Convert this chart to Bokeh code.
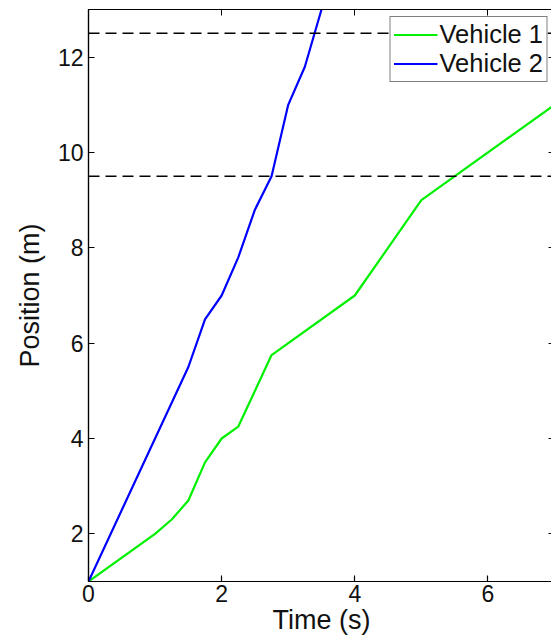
from bokeh.plotting import figure
from bokeh.models import Range1d, LinearAxis, Span, Legend, LegendItem, FixedTicker
from bokeh.embed import file_html
from bokeh.resources import INLINE

# Data
t_vehicle1 = [0, 1, 1.25, 1.5, 1.75, 2, 2.25, 2.75, 4, 5, 7]
pos_vehicle1 = [1, 2, 2.3, 2.7, 3.5, 4, 4.25, 5.75, 7, 9, 11]

t_vehicle2 = [0, 1.25, 1.5, 1.75, 2, 2.25, 2.5, 2.75, 3, 3.25, 3.5, 3.75]
pos_vehicle2 = [1, 4.75, 5.5, 6.5, 7, 7.8, 8.8, 9.5, 11, 11.8, 13, 14.2]

thresholds = [9.5, 12.5]
x_ticks = [0, 2, 4, 6]
y_ticks = [2, 4, 6, 8, 10, 12]

FONT = "Liberation Sans"

p = figure(width=554, height=637, x_range=Range1d(0, 7), y_range=Range1d(1, 13),
           output_backend="svg", toolbar_location=None,
           min_border_left=88, min_border_top=9, min_border_right=0, min_border_bottom=0,
           x_axis_label="Time (s)", y_axis_label="Position (m)")
p.grid.visible = False
p.outline_line_color = "black"
p.outline_line_width = 1.2
p.background_fill_color = "white"
p.border_fill_color = "white"

for ax in p.xaxis + p.yaxis:
    ax.axis_line_color = "black"
    ax.axis_line_width = 1.2
    ax.major_tick_in = 6
    ax.major_tick_out = 0
    ax.minor_tick_line_color = None
    ax.major_tick_line_width = 1.2
    ax.major_label_text_font = FONT
    ax.major_label_text_font_size = "23px"
    ax.major_label_text_color = "#111111"
    ax.axis_label_text_font = FONT
    ax.axis_label_text_font_size = "27px"
    ax.axis_label_text_font_style = "normal"
    ax.axis_label_text_color = "#111111"

p.xaxis.ticker = FixedTicker(ticks=x_ticks)
p.yaxis.ticker = FixedTicker(ticks=y_ticks)
p.xaxis.major_label_standoff = 3
p.xaxis.axis_label_standoff = 0
p.yaxis.major_label_standoff = 5
p.yaxis.axis_label_standoff = 10

top = LinearAxis(ticker=FixedTicker(ticks=x_ticks), major_label_text_color=None,
                 major_label_standoff=0, major_tick_in=6, major_tick_out=0,
                 minor_tick_line_color=None, axis_line_color="black", axis_line_width=1.2)
right = LinearAxis(ticker=FixedTicker(ticks=y_ticks), major_label_text_color=None,
                   major_label_standoff=0, major_tick_in=6, major_tick_out=0,
                   minor_tick_line_color=None, axis_line_color="black", axis_line_width=1.2)
p.add_layout(top, "above")
p.add_layout(right, "right")

for th in thresholds:
    p.add_layout(Span(location=th, dimension="width", line_color="black",
                      line_width=1.5, line_dash="11 6"))

r1 = p.line(t_vehicle1, pos_vehicle1, line_color="#00f000", line_width=2.2)
r2 = p.line(t_vehicle2, pos_vehicle2, line_color="#0000ff", line_width=2.2)

legend = Legend(items=[LegendItem(label="Vehicle 1", renderers=[r1]),
                       LegendItem(label="Vehicle 2", renderers=[r2])],
                location="top_right", margin=7, padding=3, spacing=0,
                label_standoff=2, glyph_width=44, glyph_height=29,
                label_text_font=FONT, label_text_font_size="25.5px",
                label_text_color="#111111",
                border_line_color="black", border_line_width=1.2,
                background_fill_color="white", background_fill_alpha=1.0)
p.add_layout(legend, "center")

open("out.html", "w").write(file_html(p, INLINE))
